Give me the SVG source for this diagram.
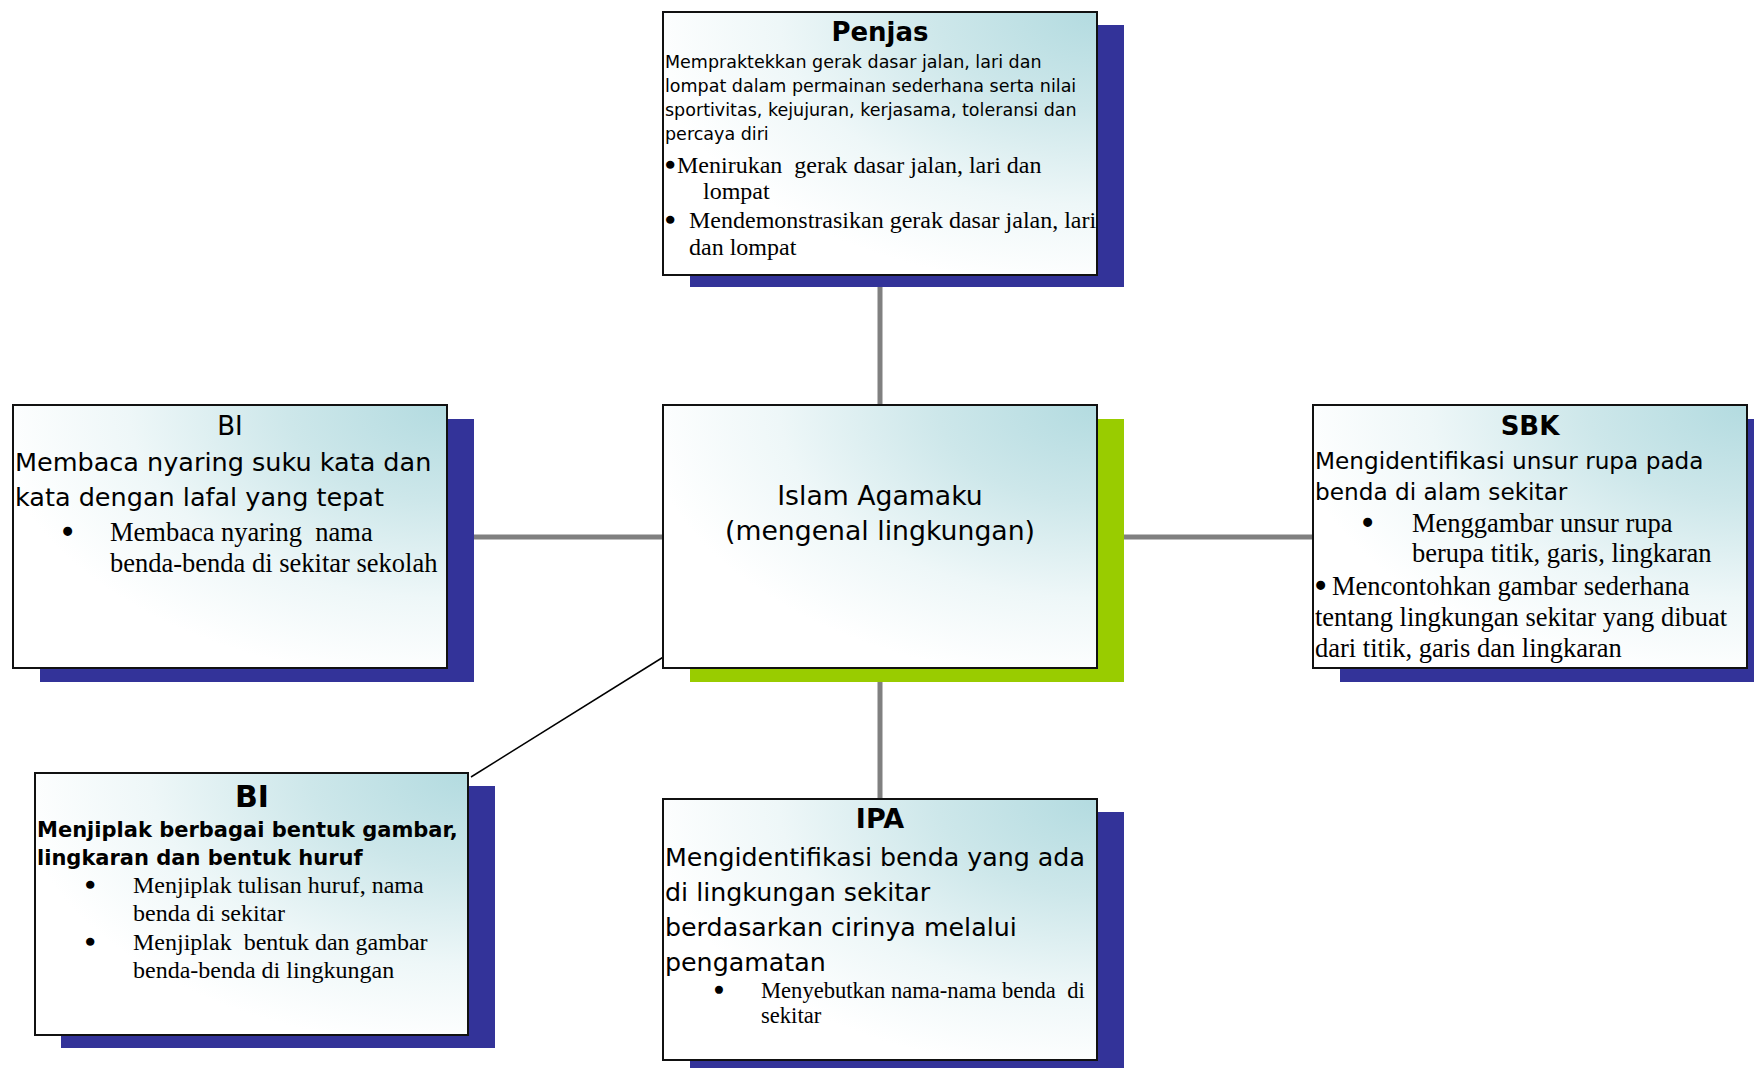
<svg xmlns="http://www.w3.org/2000/svg" width="1754" height="1068" viewBox="0 0 1754 1068">
<defs>
<radialGradient id="fill" cx="1" cy="0" r="1.05" fx="1" fy="0">
<stop offset="0" stop-color="#b3dbe0"/>
<stop offset="0.35" stop-color="#cde7ea"/>
<stop offset="0.7" stop-color="#eef7f8"/>
<stop offset="1" stop-color="#ffffff"/>
</radialGradient>
</defs>
<style>
.box{fill:url(#fill);stroke:#111;stroke-width:2}
.sh{fill:#333399}
.shg{fill:#99cc00}
.con{stroke:#808080;stroke-width:5;fill:none}
.thin{stroke:#000;stroke-width:1.5;fill:none}
.sans{font-family:"DejaVu Sans",Verdana,sans-serif;fill:#000}
.b{font-weight:bold}
.serif{font-family:"Liberation Serif","Times New Roman",serif;fill:#000}
.mid{text-anchor:middle}
.bul{stroke:#000;stroke-width:2.6;stroke-linejoin:round}
</style>
<rect width="1754" height="1068" fill="#fff"/>
<g id="connectors">
<line class="con" x1="880" y1="275" x2="880" y2="405"/>
<line class="con" x1="880" y1="668" x2="880" y2="799"/>
<line class="con" x1="447" y1="537" x2="663" y2="537"/>
<line class="con" x1="1097" y1="537" x2="1313" y2="537"/>
<line class="thin" x1="665" y1="656" x2="471" y2="777"/>
</g>
<g id="penjas">
<rect class="sh" x="690" y="25" width="434" height="262"/>
<rect class="box" x="663" y="12" width="434" height="263"/>
<text class="sans b mid" x="880" y="41" font-size="26">Penjas</text>
<g class="sans" font-size="17.5">
<text x="665" y="68">Mempraktekkan gerak dasar jalan, lari dan</text>
<text x="665" y="92">lompat dalam permainan sederhana serta nilai</text>
<text x="665" y="116">sportivitas, kejujuran, kerjasama, toleransi dan</text>
<text x="665" y="140">percaya diri</text>
</g>
<g class="serif" font-size="24">
<text class="bul" x="666" y="173">•</text>
<text x="677" y="173" xml:space="preserve">Menirukan  gerak dasar jalan, lari dan</text>
<text x="703" y="199">lompat</text>
<text class="bul" x="666" y="228">•</text>
<text x="689" y="228">Mendemonstrasikan gerak dasar jalan, lari</text>
<text x="689" y="255">dan lompat</text>
</g>
</g>
<g id="bi1">
<rect class="sh" x="40" y="419" width="434" height="263"/>
<rect class="box" x="13" y="405" width="434" height="263"/>
<text class="sans mid" x="230" y="435" font-size="26">BI</text>
<g class="sans" font-size="25.5">
<text x="15" y="471">Membaca nyaring suku kata dan</text>
<text x="15" y="506">kata dengan lafal yang tepat</text>
</g>
<g class="serif" font-size="26.5">
<text class="bul" x="63" y="541">•</text>
<text x="110" y="541" xml:space="preserve">Membaca nyaring  nama</text>
<text x="110" y="572">benda-benda di sekitar sekolah</text>
</g>
</g>
<g id="center">
<rect class="shg" x="690" y="419" width="434" height="263"/>
<rect class="box" x="663" y="405" width="434" height="263"/>
<g class="sans mid" font-size="26.7">
<text x="880" y="505">Islam Agamaku</text>
<text x="880" y="540">(mengenal lingkungan)</text>
</g>
</g>
<g id="sbk">
<rect class="sh" x="1340" y="419" width="434" height="263"/>
<rect class="box" x="1313" y="405" width="434" height="263"/>
<text class="sans b mid" x="1530" y="435" font-size="26">SBK</text>
<g class="sans" font-size="23.2">
<text x="1315" y="469">Mengidentifikasi unsur rupa pada</text>
<text x="1315" y="500">benda di alam sekitar</text>
</g>
<g class="serif" font-size="26.5">
<text class="bul" x="1363" y="532">•</text>
<text x="1412" y="532">Menggambar unsur rupa</text>
<text x="1412" y="562">berupa titik, garis, lingkaran</text>
<text class="bul" x="1316" y="595">•</text>
<text x="1332" y="595">Mencontohkan gambar sederhana</text>
<text x="1315" y="626">tentang lingkungan sekitar yang dibuat</text>
<text x="1315" y="657">dari titik, garis dan lingkaran</text>
</g>
</g>
<g id="bi2">
<rect class="sh" x="61" y="786" width="434" height="262"/>
<rect class="box" x="35" y="773" width="433" height="262"/>
<text class="sans b mid" x="252" y="807" font-size="30">BI</text>
<g class="sans b" font-size="21">
<text x="37" y="837">Menjiplak berbagai bentuk gambar,</text>
<text x="37" y="865">lingkaran dan bentuk huruf</text>
</g>
<g class="serif" font-size="24">
<text class="bul" x="86" y="893">•</text>
<text x="133" y="893">Menjiplak tulisan huruf, nama</text>
<text x="133" y="921">benda di sekitar</text>
<text class="bul" x="86" y="950">•</text>
<text x="133" y="950" xml:space="preserve">Menjiplak  bentuk dan gambar</text>
<text x="133" y="978">benda-benda di lingkungan</text>
</g>
</g>
<g id="ipa">
<rect class="sh" x="690" y="812" width="434" height="262"/>
<rect class="box" x="663" y="799" width="434" height="261"/>
<text class="sans b mid" x="880" y="828" font-size="27">IPA</text>
<g class="sans" font-size="25.3">
<text x="665" y="866">Mengidentifikasi benda yang ada</text>
<text x="665" y="901">di lingkungan sekitar</text>
<text x="665" y="936">berdasarkan cirinya melalui</text>
<text x="665" y="971">pengamatan</text>
</g>
<g class="serif" font-size="22.6">
<text class="bul" x="715" y="998">•</text>
<text x="761" y="998" xml:space="preserve">Menyebutkan nama-nama benda  di</text>
<text x="761" y="1023">sekitar</text>
</g>
</g>
</svg>
